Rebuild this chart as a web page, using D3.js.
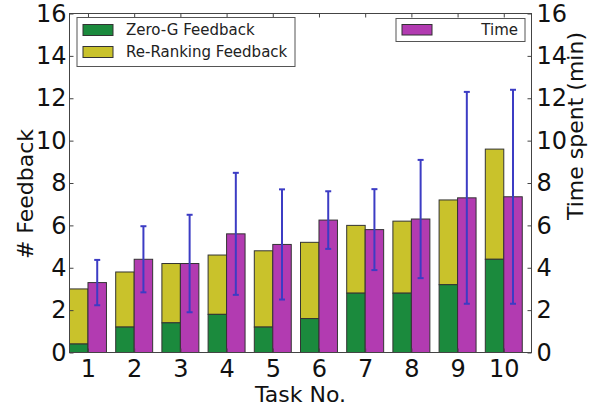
<!DOCTYPE html>
<html>
<head>
<meta charset="utf-8">
<script src="https://cdn.jsdelivr.net/npm/d3@7"></script>
<style>
  html, body { margin: 0; padding: 0; background: #fff; }
  svg { display: block; font-family: "DejaVu Sans", sans-serif; }
</style>
</head>
<body>
<svg id="chart" width="598" height="409"></svg>
<script>
// ---- data ----
const tasks = [1, 2, 3, 4, 5, 6, 7, 8, 9, 10];
const zeroG = [0.4, 1.2, 1.4, 1.8, 1.2, 1.6, 2.8, 2.8, 3.2, 4.4];
const reRanking = [2.6, 2.6, 2.8, 2.8, 3.6, 3.6, 3.2, 3.4, 4.0, 5.2];
const timeSpent = [3.3, 4.4, 4.2, 5.6, 5.1, 6.25, 5.8, 6.3, 7.3, 7.35];
const timeStd = [1.07, 1.56, 2.3, 2.88, 2.6, 1.36, 1.91, 2.79, 5.0, 5.05];
const yTicks = [0, 2, 4, 6, 8, 10, 12, 14, 16];

// ---- layout ----
const svg = d3.select("#chart");
const L = 69.5, R = 531.5, T = 13.5, B = 352.5;
const barW = 0.4;

const x = d3.scaleLinear().domain([0.6, 10.6]).range([L, R]);
const yL = d3.scaleLinear().domain([0, 16]).range([B, T]);
const yR = d3.scaleLinear().domain([0, 16]).range([B, T]);

const colGreen = "#1b8a3d", colYellow = "#c9c22b", colMag = "#b23bb1", colErr = "#3c3cc4";

// bars
const g = svg.append("g");
// yellow (stacked total)
g.selectAll("rect.rr").data(tasks).join("rect")
  .attr("x", (d) => x(d - barW))
  .attr("width", (d) => x(d) - x(d - barW))
  .attr("y", (d, i) => yL(zeroG[i] + reRanking[i]))
  .attr("height", (d, i) => yL(zeroG[i]) - yL(zeroG[i] + reRanking[i]))
  .attr("fill", colYellow).attr("stroke", "#333").attr("stroke-width", 1);
g.selectAll("rect.zg").data(tasks).join("rect")
  .attr("x", (d) => x(d - barW))
  .attr("width", (d) => x(d) - x(d - barW))
  .attr("y", (d, i) => yL(zeroG[i]))
  .attr("height", (d, i) => yL(0) - yL(zeroG[i]))
  .attr("fill", colGreen).attr("stroke", "#333").attr("stroke-width", 1);
g.selectAll("rect.tm").data(tasks).join("rect")
  .attr("x", (d) => x(d))
  .attr("width", (d) => x(d + barW) - x(d))
  .attr("y", (d, i) => yR(timeSpent[i]))
  .attr("height", (d, i) => yR(0) - yR(timeSpent[i]))
  .attr("fill", colMag).attr("stroke", "#333").attr("stroke-width", 1);

// error bars
const eb = svg.append("g").attr("stroke", colErr).attr("stroke-width", 2);
tasks.forEach((d, i) => {
  const cx = x(d + barW / 2);
  const hi = yR(timeSpent[i] + timeStd[i]);
  const lo = yR(timeSpent[i] - timeStd[i]);
  eb.append("line").attr("x1", cx).attr("x2", cx).attr("y1", hi).attr("y2", lo);
  eb.append("line").attr("x1", cx - 3).attr("x2", cx + 3).attr("y1", hi).attr("y2", hi);
  eb.append("line").attr("x1", cx - 3).attr("x2", cx + 3).attr("y1", lo).attr("y2", lo);
});

// frame
svg.append("rect").attr("x", L).attr("y", T).attr("width", R - L).attr("height", B - T)
  .attr("fill", "none").attr("stroke", "#444").attr("stroke-width", 1);

function styleAxis(sel, fs) {
  sel.select(".domain").remove();
  sel.selectAll(".tick line").attr("stroke", "#444");
  sel.selectAll(".tick text").attr("font-size", fs).attr("fill", "#111")
    .attr("font-family", "DejaVu Sans, sans-serif");
}

// left axis
const axL = svg.append("g").attr("transform", `translate(${L},0)`)
  .call(d3.axisLeft(yL).tickValues(yTicks).tickSize(-4).tickPadding(3));
styleAxis(axL, 24);
// right axis
const axR = svg.append("g").attr("transform", `translate(${R},0)`)
  .call(d3.axisRight(yR).tickValues(yTicks).tickSize(-4).tickPadding(5));
styleAxis(axR, 24);
// bottom axis
const axB = svg.append("g").attr("transform", `translate(0,${B})`)
  .call(d3.axisBottom(x).tickValues(tasks).tickFormat(d3.format("d")).tickSize(-4).tickPadding(7));
styleAxis(axB, 24);
// top axis (ticks only)
const axT = svg.append("g").attr("transform", `translate(0,${T})`)
  .call(d3.axisTop(x).tickValues(tasks).tickFormat("").tickSize(-4));
styleAxis(axT, 24);

// axis titles
svg.append("text").attr("x", (L + R) / 2).attr("y", 402).attr("text-anchor", "middle")
  .attr("font-size", 22).attr("fill", "#111").text("Task No.");
svg.append("text").attr("transform", "translate(33,194) rotate(-90)").attr("text-anchor", "middle")
  .attr("font-size", 22).attr("fill", "#111").text("# Feedback");
svg.append("text").attr("transform", "translate(583,126) rotate(-90)").attr("text-anchor", "middle")
  .attr("font-size", 22).attr("fill", "#111").text("Time spent (min)");

// legend 1
const lg1 = svg.append("g");
lg1.append("rect").attr("x", 77).attr("y", 17.5).attr("width", 218).attr("height", 49)
  .attr("fill", "#fff").attr("stroke", "#555").attr("stroke-width", 1);
[["Zero-G Feedback", colGreen, 24.5], ["Re-Ranking Feedback", colYellow, 46.5]].forEach(([t, c, yy]) => {
  lg1.append("rect").attr("x", 83).attr("y", yy).attr("width", 30).attr("height", 11)
    .attr("fill", c).attr("stroke", "#333").attr("stroke-width", 1);
  lg1.append("text").attr("x", 126).attr("y", yy + 10.5).attr("font-size", 15).attr("fill", "#222").text(t);
});
// legend 2
const lg2 = svg.append("g");
lg2.append("rect").attr("x", 396).attr("y", 18.5).attr("width", 129).attr("height", 23)
  .attr("fill", "#fff").attr("stroke", "#555").attr("stroke-width", 1);
lg2.append("rect").attr("x", 402).attr("y", 24.5).attr("width", 30).attr("height", 10.5)
  .attr("fill", colMag).attr("stroke", "#333").attr("stroke-width", 1);
lg2.append("text").attr("x", 518).attr("y", 35).attr("text-anchor", "end")
  .attr("font-size", 15).attr("fill", "#222").text("Time");
</script>
</body>
</html>
